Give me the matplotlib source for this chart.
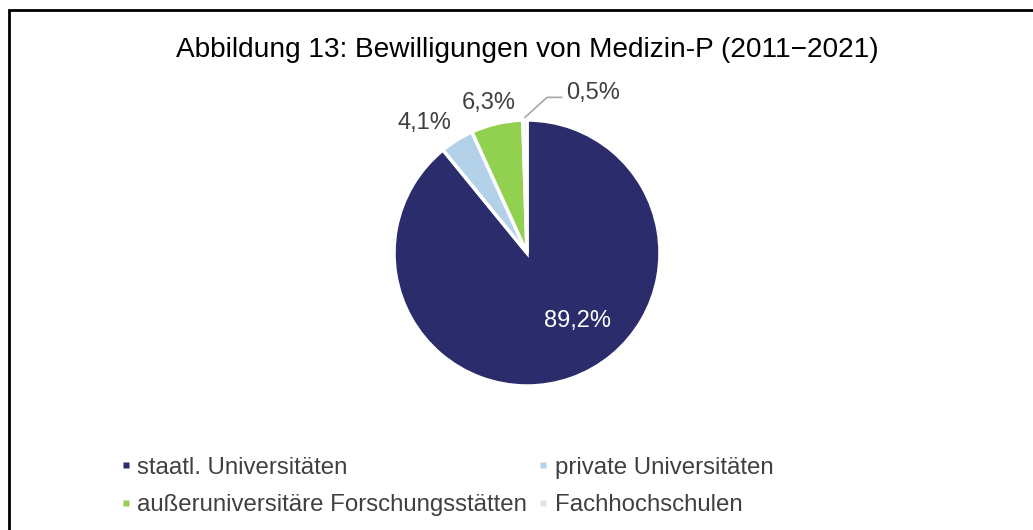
import matplotlib
matplotlib.use("Agg")
from matplotlib import pyplot as plt
from matplotlib.patches import Rectangle
from matplotlib.lines import Line2D
import numpy as np

plt.rcParams['font.family'] = ['Liberation Sans', 'DejaVu Sans']

categories = ['staatl. Universitäten', 'private Universitäten',
              'außeruniversitäre Forschungsstätten', 'Fachhochschulen']
shares = [89.2, 4.1, 6.3, 0.5]
labels = ['89,2%', '4,1%', '6,3%', '0,5%']
pie_colors = ['#2B2C6C', '#B3D2EA', '#92D050', '#E2E2E2']
label_colors = ['white', '#404040', '#404040', '#404040']

W, H = 1033, 530
fig = plt.figure(figsize=(W / 100, H / 100), dpi=100)

# outer frame (runs off right and bottom edge like the screenshot)
fig.patches.append(Rectangle((9 / W, -0.1), 1.2, 1 - 10 / H + 0.1,
                             transform=fig.transFigure, fill=False,
                             edgecolor='black', linewidth=2))

fig.text(527 / W, 1 - 50 / H, 'Abbildung 13: Bewilligungen von Medizin-P (2011\u22122021)',
         ha='center', va='center', fontsize=20.2, color='black')

# pie centre ~ (527, 253) px, radius ~ 133 px
cx, cy, r = 527, 253, 133
ax = fig.add_axes([(cx - r) / W, (H - cy - r) / H, 2 * r / W, 2 * r / H])
wedges, _ = ax.pie(shares, colors=pie_colors, startangle=90, counterclock=False,
                   wedgeprops=dict(edgecolor='white', linewidth=2.5))
ax.set_xlim(-1, 1)
ax.set_ylim(-1, 1)
ax.set_aspect('equal')
ax.axis('off')

# label positions (in pie radius units), excel style
label_pos = [(0.376, -0.51), (-0.77, 0.98), (-0.29, 1.13), (0.50, 1.20)]
for lab, (x, y), c in zip(labels, label_pos, label_colors):
    ax.text(x, y, lab, ha='center', va='center', fontsize=17, color=c, clip_on=False)

# leader line for the tiny slice
ax.plot([-0.015, 0.15, 0.26], [1.02, 1.17, 1.17], color='#A6A6A6', linewidth=1.2,
        clip_on=False)

# legend fills column-wise -> reorder so rows read like the original
order = [0, 2, 1, 3]
handles = [Line2D([], [], linestyle='none', marker='s', markersize=4.4,
                  markerfacecolor=pie_colors[i], markeredgecolor='none') for i in order]
leg = fig.legend(handles, [categories[i] for i in order], ncol=2, loc='upper left',
                 bbox_to_anchor=(101 / W, 1 - 435 / H), frameon=False,
                 fontsize=17.3, handlelength=0.26, handleheight=0.7,
                 handletextpad=0.35, columnspacing=0.55, labelspacing=0.66,
                 labelcolor='#404040')

fig.savefig('out.png', dpi=100, facecolor='white')
